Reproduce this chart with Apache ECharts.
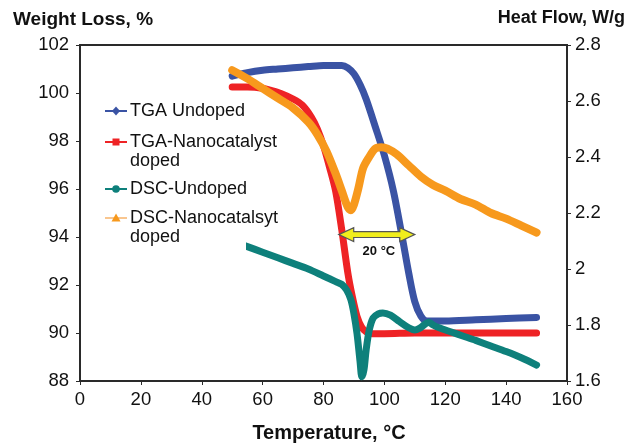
<!DOCTYPE html>
<html>
<head>
<meta charset="utf-8">
<script src="https://cdn.jsdelivr.net/npm/echarts@6/dist/echarts.min.js"></script>
<style>
  html, body { margin: 0; padding: 0; background: #fff; }
  #chart { width: 634px; height: 445px; }
</style>
</head>
<body>
<div id="chart"></div>
<script>
// TGA curves (weight, %) and DSC curves (heat flow, W/g) versus temperature (°C)
const tgaUndopedT = [50, 55, 60, 65, 70, 75, 80, 86, 88, 90, 92, 94, 97, 100, 103, 106, 108, 110, 112, 114, 120, 130, 140, 150];
const tgaUndopedW = [100.7, 100.85, 100.95, 101.0, 101.05, 101.1, 101.15, 101.15, 101.05, 100.8, 100.35, 99.75, 98.6, 97.4, 95.9, 93.9, 92.5, 91.3, 90.7, 90.5, 90.5, 90.55, 90.6, 90.65];

const tgaDopedT = [50, 55, 60, 63, 66, 70, 73, 76, 78, 80, 82, 84, 86, 88, 89.5, 91, 92.5, 94, 96, 100, 110, 120, 130, 140, 150];
const tgaDopedW = [100.25, 100.25, 100.2, 100.1, 99.98, 99.75, 99.5, 99.0, 98.5, 97.8, 96.9, 95.9, 94.3, 92.5, 91.5, 90.7, 90.25, 90.05, 89.97, 89.97, 90.0, 90.0, 90.0, 90.0, 90.0];

const dscUndopedT = [50, 55, 60, 65, 70, 75, 80, 84, 86, 87.6, 89, 90, 91, 92, 92.6, 93.3, 94, 95, 96.3, 98, 99.5, 102, 105, 108, 110, 111.5, 113, 114.5, 116, 118, 122, 126, 130, 135, 140, 145, 150];
const dscUndopedHF = [2.10, 2.08, 2.06, 2.04, 2.02, 2.0, 1.975, 1.955, 1.945, 1.925, 1.89, 1.84, 1.77, 1.67, 1.615, 1.64, 1.71, 1.78, 1.825, 1.84, 1.843, 1.835, 1.812, 1.79, 1.782, 1.788, 1.80, 1.81, 1.80, 1.79, 1.775, 1.76, 1.745, 1.725, 1.705, 1.683, 1.657];

const dscDopedT = [50, 55, 60, 65, 70, 75, 78, 81, 84, 86, 88, 89, 90, 91.5, 93, 95, 97, 99, 101, 104, 108, 112, 116, 120, 125, 130, 135, 140, 145, 150];
const dscDopedHF = [2.71, 2.68, 2.645, 2.61, 2.575, 2.525, 2.48, 2.42, 2.34, 2.28, 2.22, 2.21, 2.23, 2.29, 2.36, 2.40, 2.43, 2.435, 2.43, 2.41, 2.37, 2.33, 2.30, 2.28, 2.25, 2.23, 2.20, 2.18, 2.155, 2.13];

// axis ranges / ticks
const tempTicks = [0, 20, 40, 60, 80, 100, 120, 140, 160];
const weightTicks = [88, 90, 92, 94, 96, 98, 100, 102];
const heatTicks = [1.6, 1.8, 2.0, 2.2, 2.4, 2.6, 2.8];

// onset shift annotation (°C span on the weight scale)
const shiftSpan = [85, 110];
const shiftLevel = 94.1;
const shiftLabel = '20 °C';
const shiftLabelAt = [98.2, 93.39];

const seriesNames = ['TGA Undoped', 'TGA-Nanocatalyst\ndoped', 'DSC-Undoped', 'DSC-Nanocatalsyt\ndoped'];
const seriesColors = ['#3a53a4', '#ee2325', '#0e807b', '#f7991d'];
const legendLineColors = ['#3a53a4', '#ee2325', '#0e807b', '#f9c68f'];
const legendSymbols = ['diamond', 'rect', 'circle', 'triangle'];

const FONT = '"Liberation Sans", Arial, sans-serif';
const zip = (xs, ys) => xs.map((x, i) => [x, ys[i]]);

const chart = echarts.init(document.getElementById('chart'), null, { renderer: 'canvas' });

function lineSeries(name, data, color, yIdx, width) {
  return {
    name: name,
    type: 'line',
    yAxisIndex: yIdx,
    data: data,
    smooth: 0.3,
    showSymbol: false,
    symbol: 'none',
    lineStyle: { color: color, width: width, cap: 'round', join: 'round' },
    itemStyle: { color: color },
    animation: false,
    silent: true
  };
}

const axisLineStyle = { color: '#2a2a2a', width: 2 };
const tickLabelStyle = { color: '#111', fontSize: 18.5, fontFamily: FONT };

chart.setOption({
  animation: false,
  backgroundColor: '#fff',
  grid: { left: 80, right: 67, top: 45, bottom: 64, show: true, borderColor: '#2a2a2a', borderWidth: 2, backgroundColor: 'transparent' },
  xAxis: {
    type: 'value',
    min: tempTicks[0], max: tempTicks[tempTicks.length - 1], interval: 20,
    axisLine: { show: true, lineStyle: axisLineStyle },
    axisTick: { show: true, length: 4, lineStyle: { color: '#2a2a2a', width: 1 } },
    axisLabel: Object.assign({ margin: 9 }, tickLabelStyle),
    splitLine: { show: false }
  },
  yAxis: [
    {
      type: 'value', position: 'left',
      min: weightTicks[0], max: weightTicks[weightTicks.length - 1], interval: 2,
      axisLine: { show: true, lineStyle: axisLineStyle },
      axisTick: { show: true, length: 4, lineStyle: { color: '#2a2a2a', width: 1 } },
      axisLabel: Object.assign({ margin: 11 }, tickLabelStyle),
      splitLine: { show: false }
    },
    {
      type: 'value', position: 'right',
      min: heatTicks[0], max: heatTicks[heatTicks.length - 1], interval: 0.2,
      axisLine: { show: true, lineStyle: axisLineStyle },
      axisTick: { show: true, length: 4, lineStyle: { color: '#2a2a2a', width: 1 } },
      axisLabel: Object.assign({ margin: 8, formatter: v => String(Math.round(v * 10) / 10) }, tickLabelStyle),
      splitLine: { show: false }
    }
  ],
  series: [
    lineSeries(seriesNames[0], zip(tgaUndopedT, tgaUndopedW), seriesColors[0], 0, 7),
    lineSeries(seriesNames[1], zip(tgaDopedT, tgaDopedW), seriesColors[1], 0, 7),
    lineSeries(seriesNames[2], zip(dscUndopedT, dscUndopedHF), seriesColors[2], 1, 7),
    lineSeries(seriesNames[3], zip(dscDopedT, dscDopedHF), seriesColors[3], 1, 8)
  ]
});

function textStyle(text, x, y, size, bold, align) {
  return {
    text: text, x: x, y: y,
    fontSize: size, fontWeight: bold ? 'bold' : 'normal', fontFamily: FONT,
    fill: '#111', align: align, verticalAlign: 'middle'
  };
}

// Overlay: axis titles, legend box and the onset-shift arrow
function buildOverlay() {
  const g = [];

  g.push({ type: 'text', z: 100, style: textStyle('Weight Loss, %', 13, 20, 19, true, 'left') });
  g.push({ type: 'text', z: 100, style: textStyle('Heat Flow, W/g', 625, 18.5, 18, true, 'right') });
  g.push({ type: 'text', z: 100, style: textStyle('Temperature, °C', 329, 433, 20, true, 'center') });

  // legend
  g.push({ type: 'rect', z: 90, shape: { x: 95, y: 97, width: 151, height: 156 }, style: { fill: '#fff' } });
  const rowY = [111, 142, 189, 218];
  for (let i = 0; i < seriesNames.length; i++) {
    const y = rowY[i];
    g.push({ type: 'line', z: 95, shape: { x1: 105, y1: y, x2: 127, y2: y }, style: { stroke: legendLineColors[i], lineWidth: 2 } });
    let sym;
    if (legendSymbols[i] === 'diamond') {
      sym = { type: 'polygon', shape: { points: [[116, y - 4.5], [120, y], [116, y + 4.5], [112, y]] } };
    } else if (legendSymbols[i] === 'rect') {
      sym = { type: 'rect', shape: { x: 112.5, y: y - 3.5, width: 7, height: 7 } };
    } else if (legendSymbols[i] === 'circle') {
      sym = { type: 'circle', shape: { cx: 116, cy: y, r: 3.8 } };
    } else {
      sym = { type: 'polygon', shape: { points: [[116, y - 4.5], [120.5, y + 3.5], [111.5, y + 3.5]] } };
    }
    sym.z = 96;
    sym.style = { fill: seriesColors[i] };
    g.push(sym);
    const lines = seriesNames[i].split('\n');
    lines.forEach((t, k) => {
      g.push({ type: 'text', z: 96, style: textStyle(t, 130, y + k * 19, 18, false, 'left') });
    });
  }

  // double-headed arrow between the two onsets
  const p1 = chart.convertToPixel({ xAxisIndex: 0, yAxisIndex: 0 }, [shiftSpan[0], shiftLevel]);
  const p2 = chart.convertToPixel({ xAxisIndex: 0, yAxisIndex: 0 }, [shiftSpan[1], shiftLevel]);
  const x1 = p1[0], x2 = p2[0], yc = p1[1];
  const hl = 15, hh = 7, st = 2.9;
  g.push({
    type: 'polygon', z: 110,
    shape: { points: [
      [x1, yc], [x1 + hl, yc - hh], [x1 + hl, yc - st], [x2 - hl, yc - st], [x2 - hl, yc - hh],
      [x2, yc], [x2 - hl, yc + hh], [x2 - hl, yc + st], [x1 + hl, yc + st], [x1 + hl, yc + hh]
    ] },
    style: { fill: '#f1ee1c', stroke: '#555', lineWidth: 1.2, lineJoin: 'miter' }
  });
  const lp = chart.convertToPixel({ xAxisIndex: 0, yAxisIndex: 0 }, shiftLabelAt);
  g.push({ type: 'text', z: 110, style: textStyle(shiftLabel, lp[0], lp[1], 13, true, 'center') });
  return g;
}

chart.setOption({ graphic: buildOverlay() });
</script>
</body>
</html>
